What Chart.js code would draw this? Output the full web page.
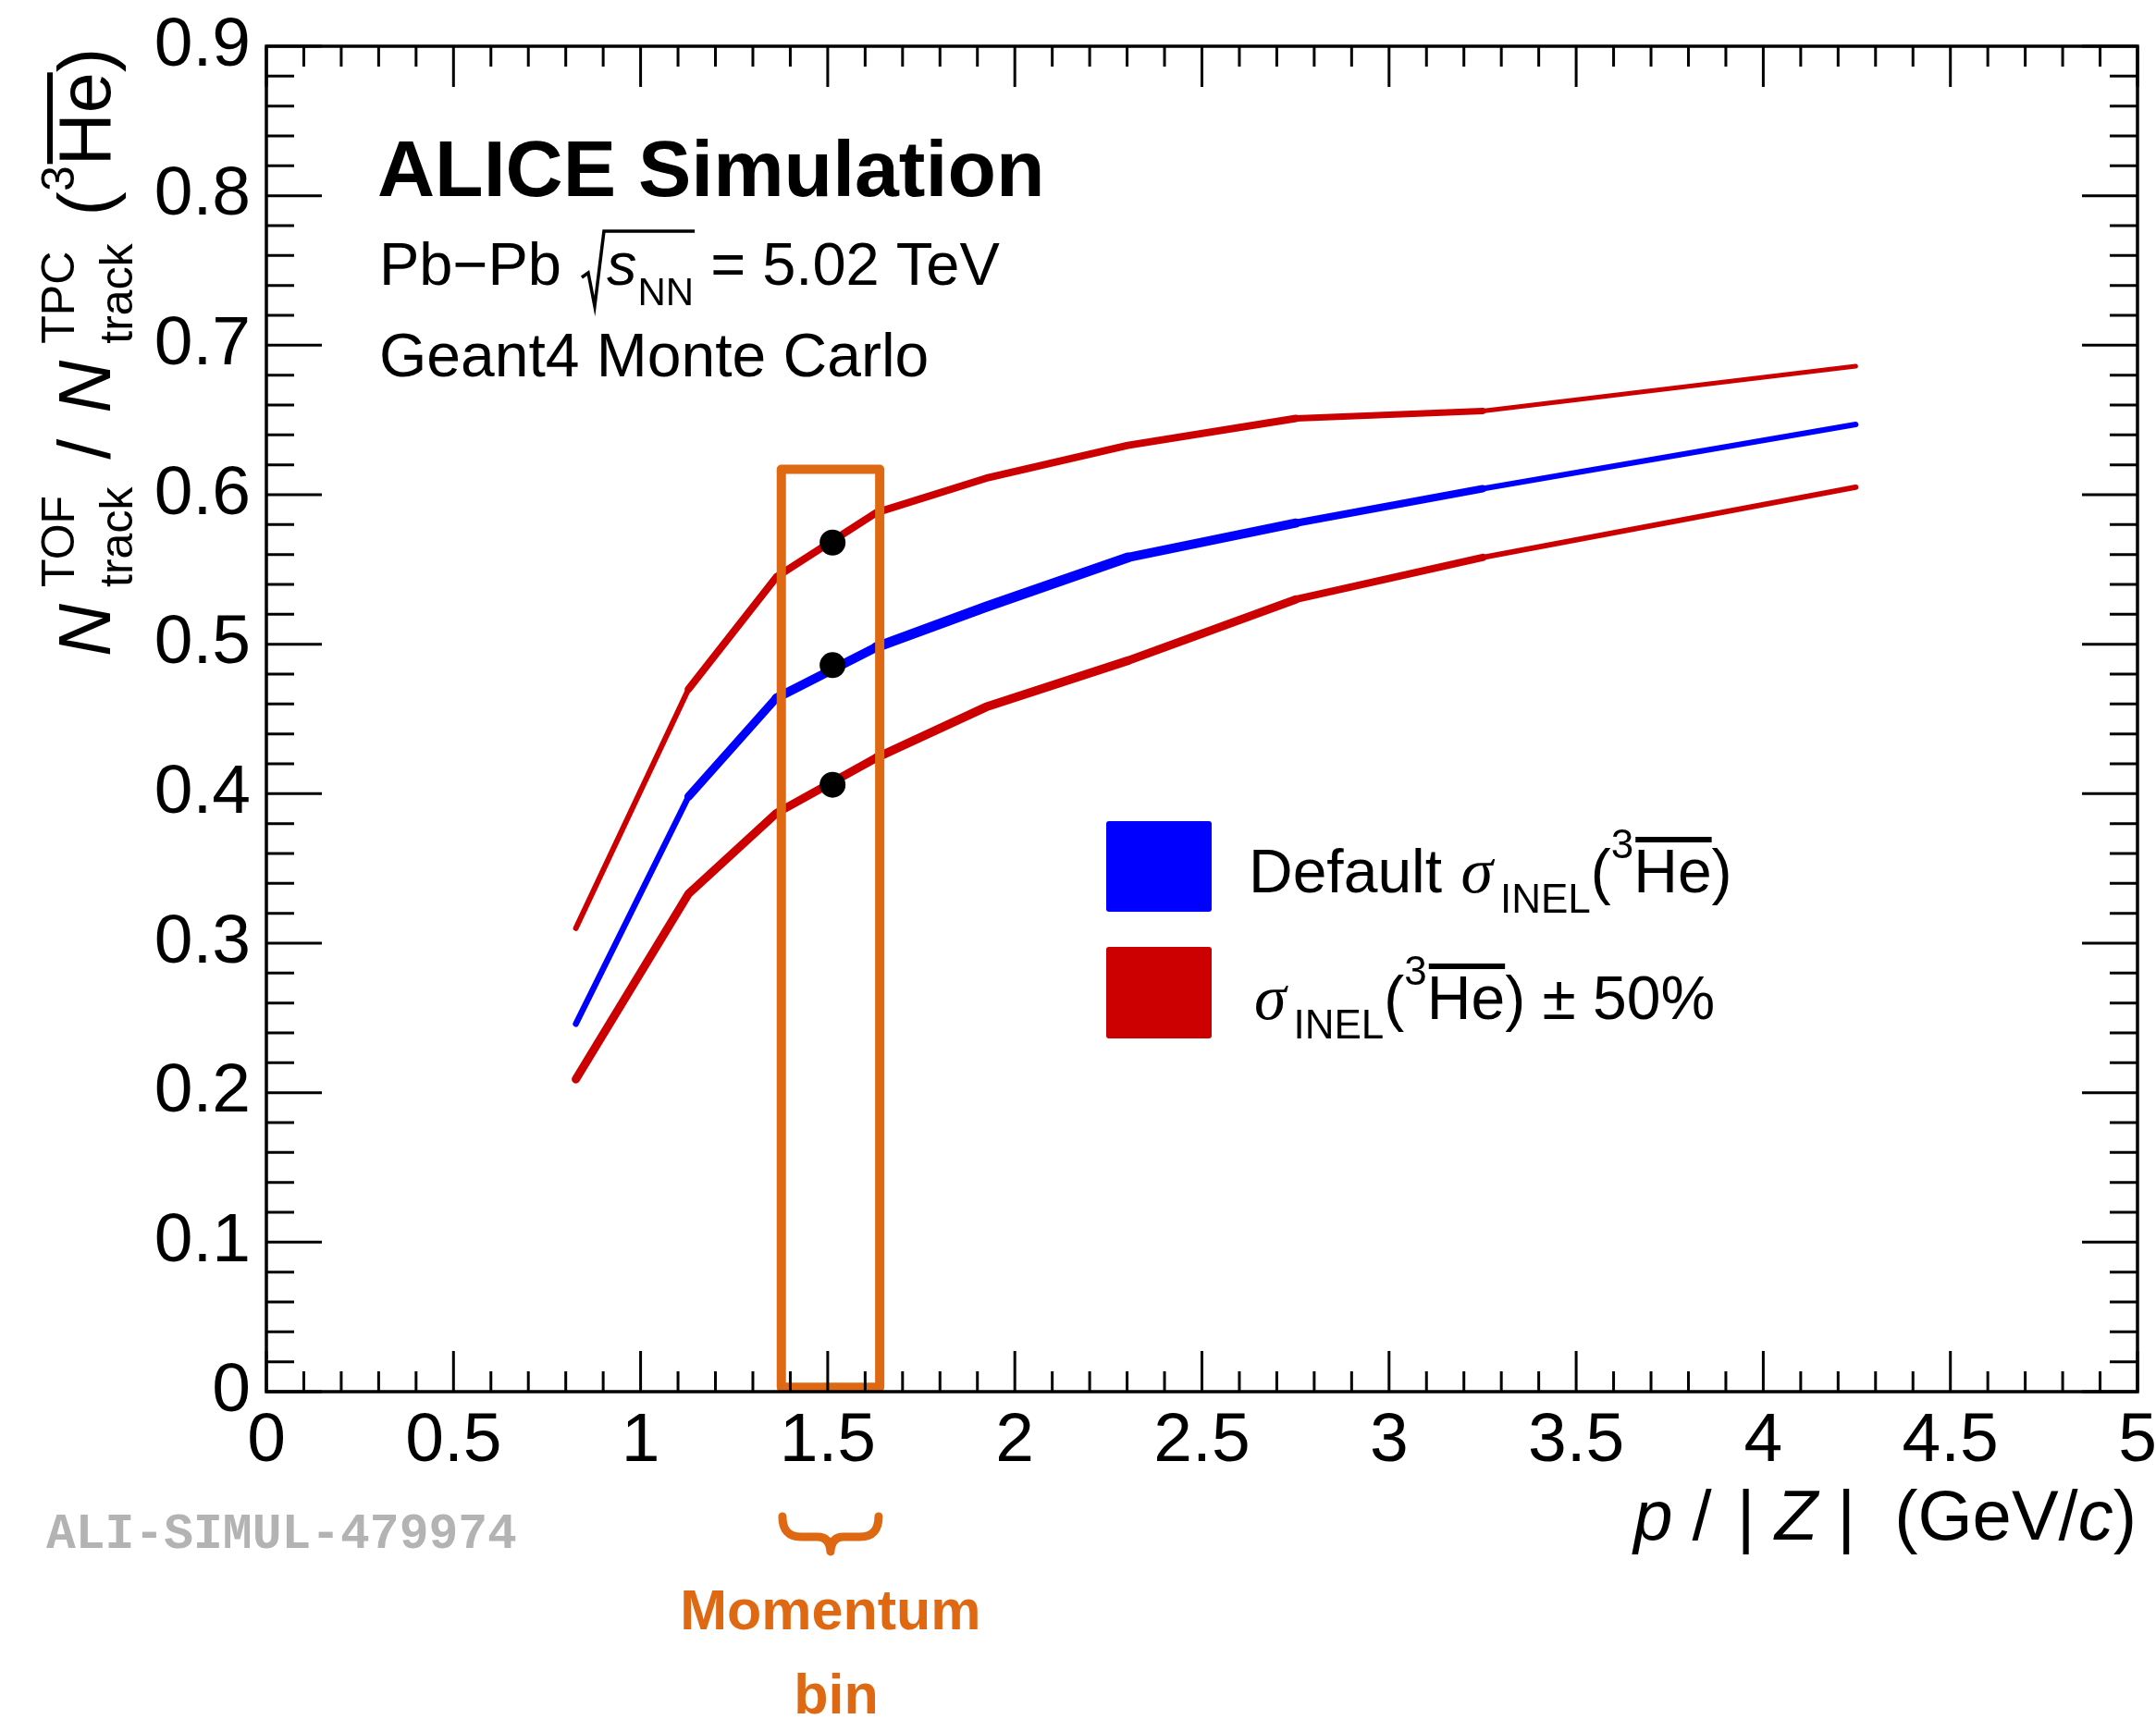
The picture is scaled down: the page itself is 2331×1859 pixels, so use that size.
<!DOCTYPE html>
<html>
<head>
<meta charset="utf-8">
<script src="https://cdn.jsdelivr.net/npm/chart.js@4.4.1/dist/chart.umd.min.js"></script>
<style>
    html, body { margin: 0; padding: 0; background: #fff; }
    #wrap { width: 2331px; height: 1859px; }
</style>
</head>
<body>
<div id="wrap"><canvas id="chart" width="2331" height="1859"></canvas></div>
<script>
// p/|Z| (GeV/c) bin centres
const momentum = [0.827, 1.128, 1.363, 1.630, 1.923, 2.302, 2.751, 3.250, 4.247];
// TOF / TPC matching ratio
const ratioDefault = [0.246, 0.398, 0.464, 0.498, 0.525, 0.558, 0.581, 0.604, 0.647];
const ratioSigmaMinus = [0.310, 0.470, 0.545, 0.588, 0.611, 0.633, 0.651, 0.656, 0.686];
const ratioSigmaPlus = [0.209, 0.333, 0.387, 0.424, 0.458, 0.489, 0.530, 0.558, 0.605];

// momentum bin highlighted in the plot
const binLow = 1.376;
const binHigh = 1.639;
const binTop = 0.617;
const binCentre = 1.513;
const binValues = [0.568, 0.486, 0.406];

const xTicks = [0, 0.5, 1, 1.5, 2, 2.5, 3, 3.5, 4, 4.5, 5];
const yTicks = [0, 0.1, 0.2, 0.3, 0.4, 0.5, 0.6, 0.7, 0.8, 0.9];

// segment widths (style only)
const widthsDefault = [6.5, 9, 10, 11, 11, 10, 8, 6];
const widthsMinus = [6, 8, 8, 8, 8, 8, 7, 5];
const widthsPlus = [9, 9, 9, 9.5, 9.5, 9, 8, 6];

const BLUE = '#0000ff';
const RED = '#cc0000';
const ORANGE = '#de6912';
const SANS = '"Liberation Sans", Arial, Helvetica, sans-serif';
const SERIF = '"Liberation Serif", "Times New Roman", serif';

function toPoints(xs, ys) {
    return xs.map((x, i) => ({ x: x, y: ys[i] }));
}

function curve(label, values, color, widths) {
    return {
        label: label,
        data: toPoints(momentum, values),
        showLine: true,
        borderColor: color,
        backgroundColor: color,
        pointRadius: 0,
        tension: 0,
        borderCapStyle: 'round',
        borderJoinStyle: 'round',
        segment: { borderWidth: ctx => widths[ctx.p0DataIndex] },
        order: 3
    };
}

// текст с индексами
function runWidth(ctx, r) {
    ctx.font = r.f;
    if (r.stack) return Math.max(...r.stack.map(s => ctx.measureText(s).width));
    return ctx.measureText(r.t).width;
}

function drawRuns(ctx, x, y, runs, align) {
    let total = 0;
    runs.forEach(r => { total += (r.gap || 0) + runWidth(ctx, r); });
    let cx = x;
    if (align === 'right') cx = x - total;
    if (align === 'center') cx = x - total / 2;
    ctx.textAlign = 'left';
    ctx.textBaseline = 'alphabetic';
    runs.forEach(r => {
        cx += r.gap || 0;
        const w = runWidth(ctx, r);
        ctx.font = r.f;
        if (r.stack) {
            ctx.fillText(r.stack[0], cx, y + r.dy[0]);
            ctx.fillText(r.stack[1], cx, y + r.dy[1]);
        } else {
            ctx.fillText(r.t, cx, y + (r.dy || 0));
            if (r.over) ctx.fillRect(cx + 2, y + r.over, w - 2, 6);
        }
        cx += w;
    });
    return cx;
}

const frameAndText = {
    id: 'frameAndText',
    afterDatasetsDraw(chart) {
        const ctx = chart.ctx;
        const xs = chart.scales.x;
        const ys = chart.scales.y;
        const a = chart.chartArea;
        ctx.save();
        ctx.strokeStyle = '#000';
        ctx.fillStyle = '#000';

        // ticks inside the frame, all four sides
        ctx.lineWidth = 3;
        ctx.beginPath();
        for (let i = 0; i <= 50; i++) {
            const v = i / 10;
            const px = xs.getPixelForValue(v);
            const len = i % 5 === 0 ? 44 : 22;
            ctx.moveTo(px, a.bottom); ctx.lineTo(px, a.bottom - len);
            ctx.moveTo(px, a.top); ctx.lineTo(px, a.top + len);
        }
        for (let i = 0; i <= 45; i++) {
            const v = i / 50;
            const py = ys.getPixelForValue(v);
            const len = i % 5 === 0 ? 60 : 30;
            ctx.moveTo(a.left, py); ctx.lineTo(a.left + len, py);
            ctx.moveTo(a.right, py); ctx.lineTo(a.right - len, py);
        }
        ctx.stroke();

        ctx.lineWidth = 3.5;
        ctx.strokeRect(a.left, a.top, a.right - a.left, a.bottom - a.top);

        // header
        ctx.fillStyle = '#000';
        drawRuns(ctx, 408, 212, [{ t: 'ALICE Simulation', f: 'bold 86px ' + SANS }]);
        let cx = drawRuns(ctx, 410, 308, [{ t: 'Pb\u2212Pb', f: '65px ' + SANS }]);
        const rx = cx + 22;
        const sEnd = drawRuns(ctx, rx + 27, 308, [
            { t: 's', f: 'italic 65px ' + SANS },
            { t: 'NN', f: '42px ' + SANS, dy: 22, gap: 1 }
        ]);
        ctx.lineWidth = 3.5;
        ctx.lineJoin = 'miter';
        ctx.beginPath();
        ctx.moveTo(rx, 300);
        ctx.lineTo(rx + 7, 295);
        ctx.lineTo(rx + 14, 331);
        ctx.lineTo(rx + 24, 250);
        ctx.lineTo(sEnd + 1, 250);
        ctx.stroke();
        drawRuns(ctx, sEnd, 308, [{ t: ' = 5.02 TeV', f: '65px ' + SANS }]);
        drawRuns(ctx, 410, 407, [{ t: 'Geant4 Monte Carlo', f: '66px ' + SANS }]);

        // legend
        ctx.fillStyle = BLUE;
        ctx.beginPath(); ctx.roundRect(1196, 888, 114, 98, 3); ctx.fill();
        ctx.fillStyle = RED;
        ctx.beginPath(); ctx.roundRect(1196, 1024, 114, 99, 3); ctx.fill();
        ctx.fillStyle = '#000';
        const L = '66px ' + SANS, Ls = '44px ' + SANS, SIG = 'italic 70px ' + SERIF;
        drawRuns(ctx, 1350, 965, [
            { t: 'Default ', f: L },
            { t: '\u03c3', f: SIG, gap: 2 },
            { t: 'INEL', f: Ls, dy: 22, gap: 8 },
            { t: '(', f: L },
            { t: '3', f: Ls, dy: -37 },
            { t: 'He', f: L, over: -60 },
            { t: ')', f: L }
        ]);
        drawRuns(ctx, 1356, 1102, [
            { t: '\u03c3', f: SIG },
            { t: 'INEL', f: Ls, dy: 21, gap: 8 },
            { t: '(', f: L },
            { t: '3', f: Ls, dy: -37 },
            { t: 'He', f: L, over: -60 },
            { t: ')', f: L },
            { t: ' \u00b1 50%', f: L }
        ]);

        // x title
        const XT = '76px ' + SANS, XI = 'italic 76px ' + SANS;
        drawRuns(ctx, 2310, 1665, [
            { t: 'p', f: XI },
            { t: ' / ', f: XT },
            { t: '|', f: XT, gap: 6 },
            { t: ' ', f: XT },
            { t: 'Z', f: XI },
            { t: ' ', f: XT },
            { t: '|', f: XT },
            { t: '  (GeV/', f: XT },
            { t: 'c', f: XI },
            { t: ')', f: XT }
        ], 'right');

        // y title, rotated
        ctx.save();
        ctx.translate(119, 52);
        ctx.rotate(-Math.PI / 2);
        const YT = '79px ' + SANS, YI = 'italic 79px ' + SANS, YS = '50px ' + SANS;
        drawRuns(ctx, 0, 0, [
            { t: 'N', f: YI },
            { stack: ['TOF', 'track'], f: YS, dy: [-39, 24], gap: 18 },
            { t: ' / ', f: YT, gap: 8 },
            { t: 'N', f: YI, gap: 6 },
            { stack: ['TPC', 'track'], f: YS, dy: [-39, 24], gap: 18 },
            { t: ' (', f: YT, gap: 8 },
            { t: '3', f: YS, dy: -39 },
            { t: 'He', f: YT, over: -68 },
            { t: ')', f: YT }
        ], 'right');
        ctx.restore();

        // watermark
        ctx.fillStyle = '#b3b3b3';
        drawRuns(ctx, 50, 1674, [{ t: 'ALI-SIMUL-479974', f: 'bold 53px "Liberation Mono", "Courier New", monospace' }]);

        // momentum bin annotation
        const bx = (xs.getPixelForValue(binLow) + xs.getPixelForValue(binHigh)) / 2;
        ctx.strokeStyle = ORANGE;
        ctx.lineWidth = 9;
        ctx.lineCap = 'round';
        ctx.lineJoin = 'round';
        ctx.beginPath();
        ctx.moveTo(bx - 52, 1640);
        ctx.quadraticCurveTo(bx - 52, 1662, bx - 32, 1662);
        ctx.lineTo(bx - 14, 1662);
        ctx.quadraticCurveTo(bx - 1, 1662, bx, 1678);
        ctx.quadraticCurveTo(bx + 1, 1662, bx + 14, 1662);
        ctx.lineTo(bx + 32, 1662);
        ctx.quadraticCurveTo(bx + 52, 1662, bx + 52, 1640);
        ctx.stroke();
        ctx.fillStyle = ORANGE;
        drawRuns(ctx, bx, 1762, [{ t: 'Momentum', f: 'bold 61px ' + SANS }], 'center');
        drawRuns(ctx, bx + 6, 1853, [{ t: 'bin', f: 'bold 61px ' + SANS }], 'center');

        ctx.restore();
    }
};

const chart = new Chart(document.getElementById('chart'), {
    type: 'scatter',
    data: {
        datasets: [
            {
                label: 'bin centre',
                data: binValues.map(v => ({ x: binCentre, y: v })),
                pointRadius: 14,
                pointBackgroundColor: '#000',
                pointBorderWidth: 0,
                showLine: false,
                order: 1
            },
            {
                label: 'bin',
                data: [
                    { x: binLow, y: 0.003 },
                    { x: binLow, y: binTop },
                    { x: binHigh, y: binTop },
                    { x: binHigh, y: 0.003 },
                    { x: binLow, y: 0.003 }
                ],
                showLine: true,
                borderColor: ORANGE,
                borderWidth: 10,
                borderJoinStyle: 'round',
                borderCapStyle: 'round',
                pointRadius: 0,
                tension: 0,
                clip: false,
                order: 2
            },
            curve('Default', ratioDefault, BLUE, widthsDefault),
            curve('-50%', ratioSigmaMinus, RED, widthsMinus),
            curve('+50%', ratioSigmaPlus, RED, widthsPlus)
        ]
    },
    options: {
        responsive: false,
        animation: false,
        devicePixelRatio: 1,
        layout: { padding: { top: 50, right: 20, left: 0, bottom: 0 } },
        plugins: {
            legend: { display: false },
            tooltip: { enabled: false }
        },
        scales: {
            x: {
                type: 'linear',
                min: 0,
                max: 5,
                afterBuildTicks: s => { s.ticks = xTicks.map(v => ({ value: v })); },
                afterFit: s => { s.height = 354; s.paddingLeft = 0; s.paddingRight = 0; },
                ticks: {
                    autoSkip: false,
                    maxRotation: 0,
                    padding: 1,
                    color: '#000',
                    font: { family: SANS, size: 75 },
                    callback: v => String(+v.toFixed(2))
                },
                grid: { display: false },
                border: { display: false }
            },
            y: {
                type: 'linear',
                min: 0,
                max: 0.9,
                afterBuildTicks: s => { s.ticks = yTicks.map(v => ({ value: v })); },
                afterFit: s => { s.width = 288; s.paddingTop = 0; s.paddingBottom = 0; },
                ticks: {
                    autoSkip: false,
                    padding: 9,
                    color: '#000',
                    font: { family: SANS, size: 75 },
                    callback: v => String(+v.toFixed(2))
                },
                grid: { display: false },
                border: { display: false }
            }
        }
    },
    plugins: [frameAndText]
});
</script>
</body>
</html>
